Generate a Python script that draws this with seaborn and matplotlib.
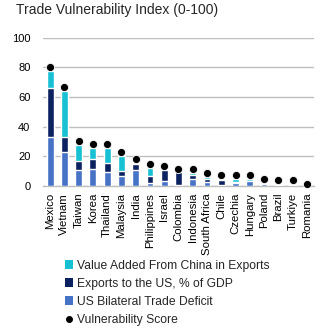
import matplotlib
matplotlib.use("Agg")
import matplotlib.pyplot as plt
from matplotlib.patches import Patch
from matplotlib.lines import Line2D
import seaborn as sns
import pandas as pd
import numpy as np

countries = ["Mexico", "Vietnam", "Taiwan", "Korea", "Thailand", "Malaysia", "India",
             "Philippines", "Israel", "Colombia", "Indonesia", "South Africa", "Chile",
             "Czechia", "Hungary", "Poland", "Brazil", "Turkiye", "Romania"]
trade_deficit = [33.0, 22.9, 10.8, 11.7, 9.4, 7.0, 10.6, 2.2, 3.1, 0.9, 4.9, 2.9, 0.7,
                 1.8, 3.1, 1.6, 0.4, 0.7, 0.0]
exports_us = [32.8, 10.1, 6.1, 6.5, 5.9, 3.3, 4.4, 4.8, 7.5, 8.3, 2.3, 1.6, 3.6,
              0.7, 0.5, 0.2, 0.7, 0.0, 0.0]
china_va = [11.7, 31.0, 10.5, 7.4, 10.3, 9.7, 0.0, 5.1, 0.2, 0.0, 1.6, 1.5, 0.0,
            2.0, 0.9, 0.0, 0.0, 0.2, 0.0]
score = [80.5, 66.7, 30.3, 28.5, 28.5, 22.9, 18.0, 15.0, 13.5, 11.5, 11.5, 9.0, 7.2,
         7.2, 7.2, 4.7, 4.0, 4.0, 1.6]

legend_labels = ["Value Added From China in Exports", "Exports to the US, % of GDP",
                 "US Bilateral Trade Deficit", "Vulnerability Score"]
title = "Trade Vulnerability Index (0-100)"

c_cyan = "#17C0D2"
c_navy = "#0C2260"
c_blue = "#4673C6"

df = pd.DataFrame({
    "country": countries,
    "l1": np.array(trade_deficit),
    "l2": np.array(trade_deficit) + np.array(exports_us),
    "l3": np.array(trade_deficit) + np.array(exports_us) + np.array(china_va),
    "score": score,
})

sns.set_style("white")
plt.rcParams["font.family"] = ["Liberation Sans", "DejaVu Sans"]

fig = plt.figure(figsize=(3.23, 3.32), dpi=100)
ax = fig.add_axes([0.133, 0.44, 0.839, 0.446])

sns.barplot(data=df, x="country", y="l3", color=c_cyan, width=0.48, saturation=1, ax=ax, zorder=2)
sns.barplot(data=df, x="country", y="l2", color=c_navy, width=0.48, saturation=1, ax=ax, zorder=3)
sns.barplot(data=df, x="country", y="l1", color=c_blue, width=0.48, saturation=1, ax=ax, zorder=4)
sns.scatterplot(data=df, x="country", y="score", color="black", s=34, edgecolor="white",
                linewidth=0.6, ax=ax, zorder=5, clip_on=False)

ax.set_ylim(0, 100)
ax.set_xlim(-0.5, len(countries) - 0.5)
ax.set_yticks([0, 20, 40, 60, 80, 100])
ax.yaxis.grid(True, color="#BFBFBF", linewidth=1.0, zorder=0)
ax.set_axisbelow(True)
for s in ["top", "right", "left"]:
    ax.spines[s].set_visible(False)
ax.spines["bottom"].set_color("#BFBFBF")
ax.spines["bottom"].set_linewidth(1.0)
ax.tick_params(axis="both", length=0, labelsize=8, colors="black")
ax.tick_params(axis="y", pad=9)
ax.tick_params(axis="x", pad=5)
ax.set_xticks(range(len(countries)))
ax.set_xticklabels(countries, rotation=90, fontsize=8.2)
ax.set_xlabel("")
ax.set_ylabel("")

fig.text(0.05, 0.99, title, fontsize=10, ha="left", va="top")

handles = [Patch(facecolor=c_cyan, edgecolor="none"),
           Patch(facecolor=c_navy, edgecolor="none"),
           Patch(facecolor=c_blue, edgecolor="none"),
           Line2D([], [], marker="o", color="black", linestyle="none", markersize=4)]
fig.legend(handles, legend_labels, loc="upper left", bbox_to_anchor=(0.2, 0.218),
           frameon=False, fontsize=8.7, handlelength=0.7, handleheight=0.7,
           handletextpad=0.3, labelspacing=0.5, borderaxespad=0, borderpad=0)

fig.savefig("out.png", dpi=100)
